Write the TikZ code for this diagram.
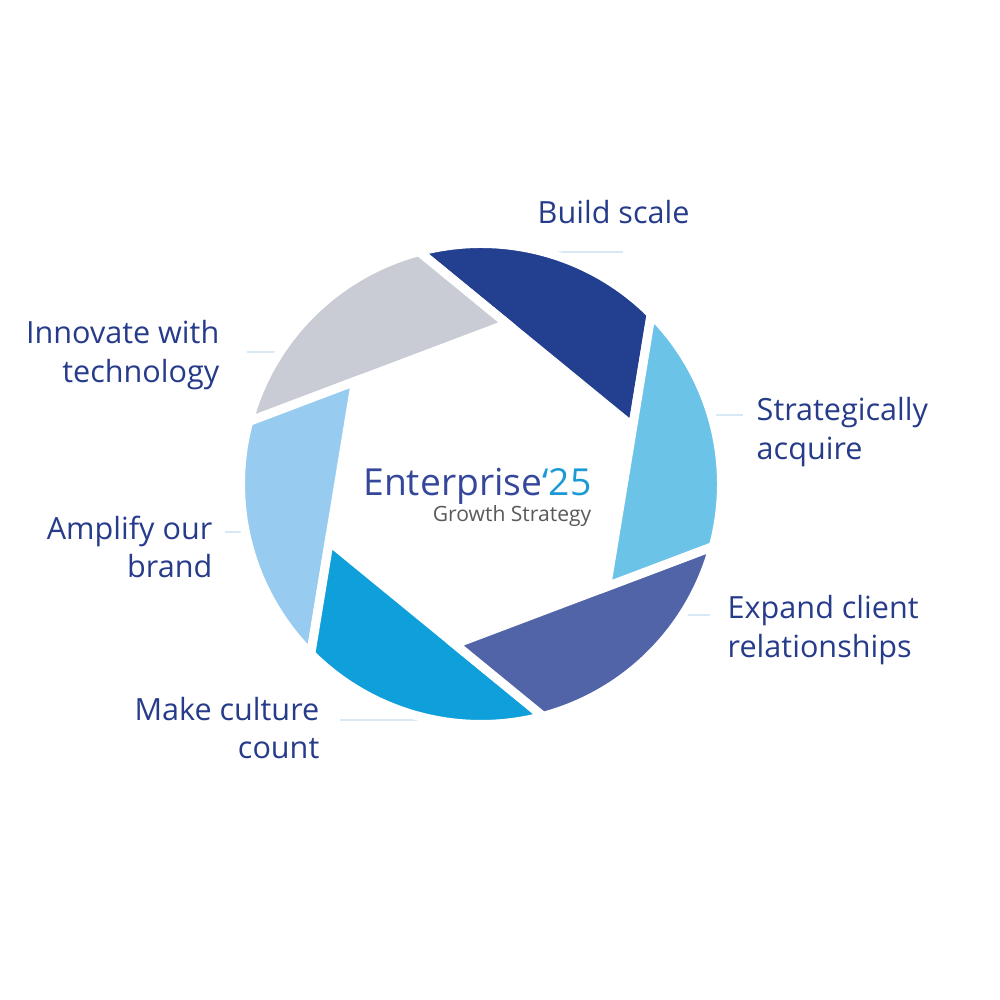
\documentclass[tikz,border=0pt]{standalone}
\usepackage{fontspec}
\setmainfont{Open Sans}
\definecolor{labelblue}{HTML}{263B8A}
\definecolor{entblue}{HTML}{34479A}
\definecolor{entcyan}{HTML}{1C9AD6}
\definecolor{growgray}{HTML}{5A5A5A}
\definecolor{leaderblue}{HTML}{D8E8F5}
\definecolor{bladeA}{HTML}{233F8F}
\definecolor{bladeB}{HTML}{C9CBD5}
\definecolor{bladeC}{HTML}{97CCF0}
\definecolor{bladeD}{HTML}{0F9FDB}
\definecolor{bladeE}{HTML}{5164A8}
\definecolor{bladeF}{HTML}{6CC3E8}
\tikzset{
	blade/.style={draw=white, line width=0.09cm},
	leader/.style={draw=leaderblue, line width=0.6pt},
	lbl/.style={inner sep=0pt, text=labelblue, font={\fontsize{8.7}{11}\selectfont}},
}

\begin{document}
\begin{tikzpicture}
\useasboundingbox (0,0) rectangle (10,10);
% faint leader lines
\coordinate (build-a) at (5.33,7.48);
\coordinate (build-b) at (6.23,7.48);
\coordinate (acquire-a) at (7.10,5.85);
\coordinate (acquire-b) at (7.43,5.85);
\coordinate (expand-a) at (6.82,3.85);
\coordinate (expand-b) at (7.10,3.85);
\coordinate (culture-a) at (3.40,2.80);
\coordinate (culture-b) at (4.50,2.80);
\coordinate (amplify-a) at (2.25,4.68);
\coordinate (amplify-b) at (2.48,4.68);
\coordinate (innovate-a) at (2.47,6.48);
\coordinate (innovate-b) at (2.80,6.48);
\draw[leader] (build-a) -- (build-b);
\draw[leader] (acquire-a) -- (acquire-b);
\draw[leader] (expand-a) -- (expand-b);
\draw[leader] (culture-a) -- (culture-b);
\draw[leader] (amplify-a) -- (amplify-b);
\draw[leader] (innovate-a) -- (innovate-b);
% aperture blades
\begin{scope}[shift={(4.81,5.16)}]
\pgfmathsetmacro\hexr{1.405/cos(30)}
\pgfmathsetmacro\tip{acos(1.405/2.405)}
\foreach \ang/\col in {50.7/bladeA,110.7/bladeB,170.7/bladeC,230.7/bladeD,290.7/bladeE,350.7/bladeF}
{
	\filldraw[blade, fill=\col] ({\ang-30}:\hexr) -- ({\ang-60+\tip}:2.405)
		arc[start angle={\ang-60+\tip}, end angle={\ang+\tip}, radius=2.405] -- cycle;
}
\end{scope}
% centre
\node[anchor=base east, inner sep=0pt, font={\fontsize{10.6}{13}\selectfont}, text=entblue] (ent) at (5.92,5.04) {Enterprise\textcolor{entcyan}{‘25}};
\node[anchor=base east, inner sep=0pt, font={\fontsize{6}{7}\selectfont}, text=growgray] (growth) at (5.92,4.78) {Growth Strategy};
% labels
\node[lbl, anchor=base west] (build) at (5.37,7.76) {Build scale};
\node[lbl, anchor=west, align=left] (acquire) at (7.56,5.68) {Strategically\\acquire};
\node[lbl, anchor=west, align=left] (expand) at (7.27,3.70) {Expand client\\relationships};
\node[lbl, anchor=east, align=right] (culture) at (3.20,2.72) {Make culture\\count};
\node[lbl, anchor=east, align=right] (amplify) at (2.13,4.53) {Amplify our\\brand};
\node[lbl, anchor=east, align=right] (innovate) at (2.20,6.45) {Innovate with\\technology};
\end{tikzpicture}
\end{document}
